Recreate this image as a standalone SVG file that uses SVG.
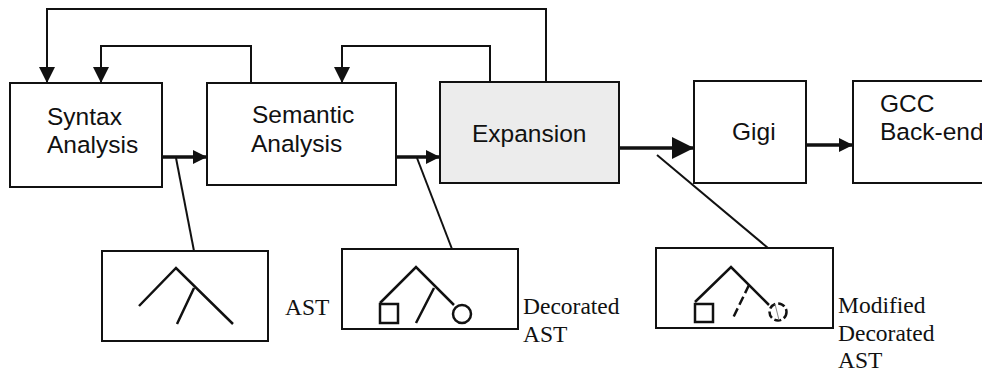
<svg xmlns="http://www.w3.org/2000/svg" width="982" height="374" viewBox="0 0 982 374">
  <style>
    .box { fill: #ffffff; stroke: #111; stroke-width: 2; }
    .shade { fill: #ececec; }
    .lbl { font-family: "Liberation Sans", Arial, sans-serif; font-size: 24.5px; fill: #111; }
    .cap { font-family: "Liberation Serif", "Times New Roman", serif; font-size: 23.5px; fill: #111; }
    .ln { fill: none; stroke: #111; stroke-width: 2; }
    .flow { fill: none; stroke: #111; stroke-width: 3.5; }
    .tree { fill: none; stroke: #111; stroke-width: 2.5; }
  </style>
  <defs>
    <marker id="down" viewBox="0 0 16 16" markerWidth="16" markerHeight="16" refX="8" refY="16" markerUnits="userSpaceOnUse" orient="0">
      <path d="M0 0 L16 0 L8 16 Z" fill="#111"/>
    </marker>
    <marker id="right" viewBox="0 0 14 14" markerWidth="14" markerHeight="14" refX="14" refY="7" markerUnits="userSpaceOnUse" orient="0">
      <path d="M0 0 L14 7 L0 14 Z" fill="#111"/>
    </marker>
    <marker id="rightBig" viewBox="0 0 22 22" markerWidth="22" markerHeight="22" refX="22" refY="11" markerUnits="userSpaceOnUse" orient="0">
      <path d="M0 0 L22 11 L0 22 Z" fill="#111"/>
    </marker>
  </defs>

  <!-- connectors -->
  <g id="connectors">
    <!-- feedback loops -->
    <path class="ln" d="M546 82 V9 H47 V83" marker-end="url(#down)"/>
    <path class="ln" d="M251 83 V46 H101 V83" marker-end="url(#down)"/>
    <path class="ln" d="M490 82 V46 H342 V83" marker-end="url(#down)"/>
    <!-- forward flow -->
    <path class="flow" d="M162 157 H207" marker-end="url(#right)"/>
    <path class="flow" d="M396 157 H440" marker-end="url(#right)"/>
    <path class="flow" d="M619 148 H694" stroke-width="5" marker-end="url(#rightBig)"/>
    <path class="flow" d="M806 145 H853" marker-end="url(#right)"/>
    <!-- tree snapshots -->
    <path class="ln" d="M176 158 L194 251"/>
    <path class="ln" d="M417 158 L452 249"/>
    <path class="ln" d="M657 155 L768 248"/>
  </g>

  <g id="syntax">
    <rect class="box" x="10" y="83" width="152" height="104"/>
    <text class="lbl" x="47" y="125">Syntax</text>
    <text class="lbl" x="47" y="153">Analysis</text>
  </g>

  <g id="semantic">
    <rect class="box" x="207" y="83" width="189" height="102"/>
    <text class="lbl" x="252" y="123">Semantic</text>
    <text class="lbl" x="251" y="152">Analysis</text>
  </g>

  <g id="expansion">
    <rect class="box shade" x="440" y="82" width="179" height="101"/>
    <text class="lbl" x="472" y="142">Expansion</text>
  </g>

  <g id="gigi">
    <rect class="box" x="694" y="81" width="112" height="102"/>
    <text class="lbl" x="732" y="140">Gigi</text>
  </g>

  <g id="gcc">
    <rect class="box" x="853" y="81" width="140" height="102"/>
    <text class="lbl" x="880" y="112">GCC</text>
    <text class="lbl" x="880" y="140">Back-end</text>
  </g>

  <g id="ast">
    <rect class="box" x="102" y="251" width="166" height="90"/>
    <path class="tree" d="M139 306 L176 268 L233 324 M194 288 L177 324"/>
    <text class="cap" x="285" y="315">AST</text>
  </g>

  <g id="decorated-ast">
    <rect class="box" x="342" y="249" width="176" height="80"/>
    <path class="tree" d="M380 303 L416 267 L454 305 M434 288 L416 323"/>
    <rect class="tree" x="380" y="304" width="18" height="19"/>
    <circle class="tree" cx="462" cy="314" r="9"/>
    <text class="cap" x="523" y="314">Decorated</text>
    <text class="cap" x="523" y="342">AST</text>
  </g>

  <g id="modified-ast">
    <rect class="box" x="656" y="248" width="177" height="80"/>
    <path class="tree" d="M695 302 L731 267 L769 305"/>
    <path class="tree" d="M749 285 L733 318" stroke-dasharray="9 4"/>
    <rect class="tree" x="695" y="304" width="18" height="18"/>
    <circle class="tree" cx="778" cy="312" r="8.5" stroke-dasharray="7 3"/>
    <path d="M775 304 L779 320" stroke="#888" stroke-width="1" fill="none"/>
    <text class="cap" x="838" y="313">Modified</text>
    <text class="cap" x="838" y="341">Decorated</text>
    <text class="cap" x="838" y="368">AST</text>
  </g>
</svg>
